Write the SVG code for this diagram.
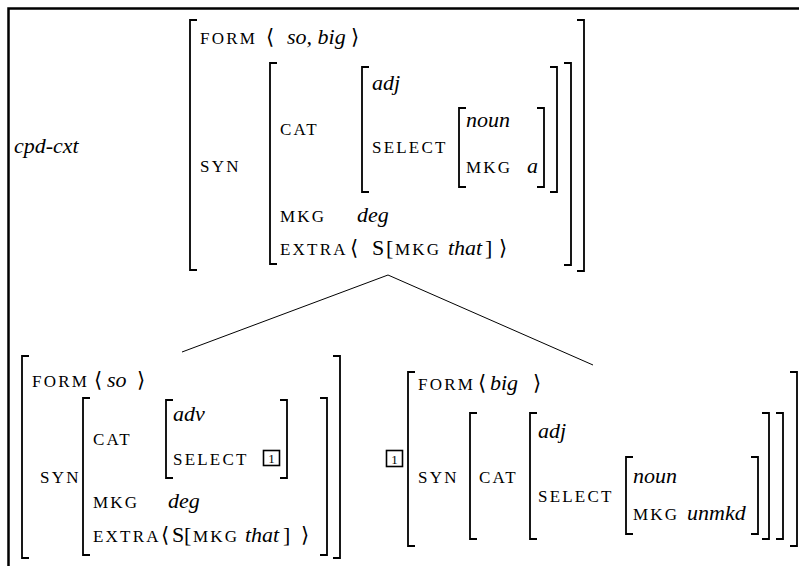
<svg xmlns="http://www.w3.org/2000/svg" width="799" height="566" viewBox="0 0 799 566">
<style>
.br{fill:none;stroke:#000;stroke-width:1.8}
.tag{fill:#fff;stroke:#000;stroke-width:1.6}
.ln{stroke:#000;stroke-width:1;fill:none}
text{font-family:"Liberation Serif",serif;fill:#000}
.sc{font-size:17px;letter-spacing:2.2px}
.it{font-size:22px;font-style:italic}
.rm{font-size:22px}
.ang{font-size:21px}
.tagt{font-size:13px;text-anchor:middle}
</style>
<path d="M8.5,566 V8.5 H799" fill="none" stroke="#000" stroke-width="2.5"/>
<g id="connectors">
<line class="ln" x1="388" y1="275" x2="182" y2="352"/>
<line class="ln" x1="388" y1="275" x2="593" y2="365"/>
</g>
<g id="node-cpd-cxt">
<path class="br" d="M197,20 H190 V270 H197"/>
<path class="br" d="M577,20 H584 V271 H577"/>
<path class="br" d="M277,63 H270 V264 H277"/>
<path class="br" d="M564,63 H571 V265 H564"/>
<path class="br" d="M369,67 H362 V192 H369"/>
<path class="br" d="M550,67 H557 V192 H550"/>
<path class="br" d="M466,108 H459 V187 H466"/>
<path class="br" d="M537,108 H544 V187 H537"/>
<text class="it" x="14" y="153">cpd-cxt</text>
<text class="sc" x="200" y="44">FORM</text>
<text class="ang" x="266" y="44">⟨</text>
<text class="it" x="287" y="44">so, big</text>
<text class="ang" x="351" y="44">⟩</text>
<text class="sc" x="200" y="172">SYN</text>
<text class="sc" x="280" y="135">CAT</text>
<text class="it" x="372" y="90">adj</text>
<text class="sc" x="372" y="153">SELECT</text>
<text class="it" x="466" y="127">noun</text>
<text class="sc" x="466" y="173">MKG</text>
<text class="it" x="527" y="173">a</text>
<text class="sc" x="280" y="222">MKG</text>
<text class="it" x="357" y="222">deg</text>
<text class="sc" x="280" y="255">EXTRA</text>
<text class="ang" x="350" y="255">⟨</text>
<text class="rm" x="372" y="255">S</text>
<text class="rm" x="386" y="255">[</text>
<text class="sc" x="395" y="255">MKG</text>
<text class="it" x="448" y="255">that</text>
<text class="rm" x="485" y="255">]</text>
<text class="ang" x="499" y="255">⟩</text>
</g>
<g id="node-so">
<path class="br" d="M29,356 H22 V558 H29"/>
<path class="br" d="M333,356 H340 V558 H333"/>
<path class="br" d="M90,398 H83 V555 H90"/>
<path class="br" d="M320,398 H327 V555 H320"/>
<path class="br" d="M173,400 H166 V478 H173"/>
<path class="br" d="M280,400 H287 V478 H280"/>
<text class="sc" x="32" y="387">FORM</text>
<text class="ang" x="94" y="387">⟨</text>
<text class="it" x="107" y="387">so</text>
<text class="ang" x="137" y="387">⟩</text>
<text class="sc" x="40" y="483">SYN</text>
<text class="sc" x="93" y="445">CAT</text>
<text class="it" x="173" y="421">adv</text>
<text class="sc" x="173" y="465">SELECT</text>
<rect class="tag" x="263.5" y="450.5" width="16" height="15"/>
<text class="tagt" x="271.5" y="463">1</text>
<text class="sc" x="93" y="508">MKG</text>
<text class="it" x="168" y="508">deg</text>
<text class="sc" x="93" y="542">EXTRA</text>
<text class="ang" x="161" y="542">⟨</text>
<text class="rm" x="172" y="542">S</text>
<text class="rm" x="184" y="542">[</text>
<text class="sc" x="193" y="542">MKG</text>
<text class="it" x="245" y="542">that</text>
<text class="rm" x="283" y="542">]</text>
<text class="ang" x="301" y="542">⟩</text>
</g>
<g id="node-big">
<path class="br" d="M415,372 H408 V546 H415"/>
<path class="br" d="M790,372 H797 V546 H790"/>
<path class="br" d="M477,413 H470 V539 H477"/>
<path class="br" d="M776,413 H783 V539 H776"/>
<path class="br" d="M537,413 H530 V539 H537"/>
<path class="br" d="M762,413 H769 V539 H762"/>
<path class="br" d="M633,457 H626 V534 H633"/>
<path class="br" d="M751,457 H758 V534 H751"/>
<rect class="tag" x="386.5" y="450.5" width="16" height="16"/>
<text class="tagt" x="394.5" y="463.5">1</text>
<text class="sc" x="418" y="390">FORM</text>
<text class="ang" x="478" y="390">⟨</text>
<text class="it" x="490" y="390">big</text>
<text class="ang" x="533" y="390">⟩</text>
<text class="sc" x="418" y="483">SYN</text>
<text class="sc" x="479" y="483">CAT</text>
<text class="it" x="538" y="438">adj</text>
<text class="sc" x="538" y="502">SELECT</text>
<text class="it" x="633" y="483">noun</text>
<text class="sc" x="633" y="520">MKG</text>
<text class="it" x="687" y="520">unmkd</text>
</g>
</svg>
